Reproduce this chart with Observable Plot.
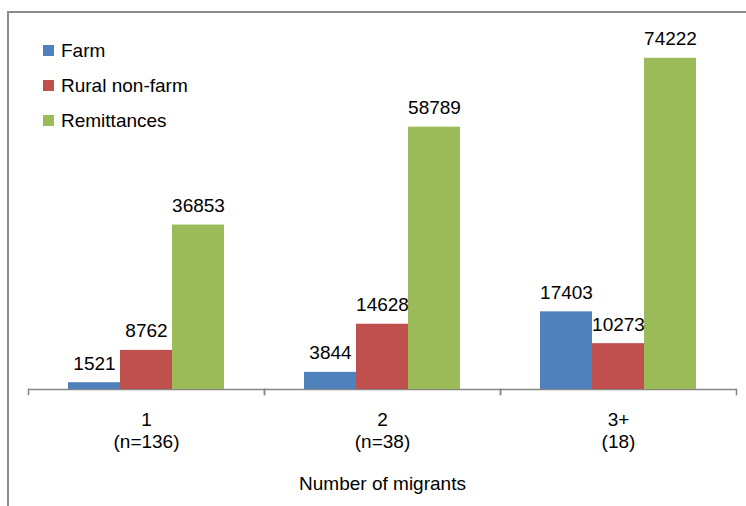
<!DOCTYPE html>
<html><head><meta charset="utf-8">
<script src="https://cdn.jsdelivr.net/npm/d3@7"></script>
<script src="https://cdn.jsdelivr.net/npm/@observablehq/plot@0.6"></script>
<style>
body{margin:0;background:#fff;}
#wrap{position:relative;width:746px;height:506px;overflow:hidden;font-family:"Liberation Sans",Arial,sans-serif;background:#fff;}
#border{position:absolute;left:7px;top:11px;width:800px;height:600px;border-left:2px solid #8c8c8c;border-top:2px solid #8c8c8c;z-index:5;}
#legend{position:absolute;left:43px;top:33px;z-index:6;}
.item{display:flex;align-items:center;height:35px;font-size:19px;color:#000;}
.sw{width:11px;height:11px;margin-right:7px;}
#chart{position:absolute;left:0;top:0;}
</style></head>
<body>
<div id="wrap"><div id="chart"></div><div id="border"></div><div id="legend"></div></div>
<script>
const groups = ["1", "2", "3+"];
const groupLabels = ["1\n(n=136)", "2\n(n=38)", "3+\n(18)"];
const series = ["Farm", "Rural non-farm", "Remittances"];
const farm = [1521, 3844, 17403];
const ruralNonFarm = [8762, 14628, 10273];
const remittances = [36853, 58789, 74222];
const colors = ["#4F81BD", "#C0504D", "#9BBB59"];
const axisTitle = "Number of migrants";

const valuesBySeries = [farm, ruralNonFarm, remittances];
const rows = [];
groups.forEach((g, gi) => series.forEach((s, si) => rows.push({group: g, series: s, value: valuesBySeries[si][gi]})));

const font = '"Liberation Sans", Arial, sans-serif';
const chart = Plot.plot({
  width: 746, height: 506,
  marginLeft: 27, marginRight: 10, marginTop: 32, marginBottom: 117,
  style: {fontFamily: font, fontSize: "19px", background: "transparent", color: "#000"},
  fx: {domain: groups, padding: 0},
  x: {domain: series, paddingInner: 0, paddingOuter: 0.75, axis: null},
  y: {domain: [0, 80000], axis: null},
  color: {domain: series, range: colors},
  marks: [
    Plot.ruleY([0], {stroke: "#868686", strokeWidth: 1.5}),
    Plot.frame({anchor: "left", stroke: "#868686", strokeWidth: 1.5, insetTop: 357, insetBottom: -5}),
    Plot.frame({anchor: "right", stroke: "#868686", strokeWidth: 1.5, insetTop: 357, insetBottom: -5}),
    Plot.barY(rows, {fx: "group", x: "series", y: "value", fill: "series"}),
    Plot.text(rows, {fx: "group", x: "series", y: "value", text: d => String(d.value), dy: -19, fontSize: 19, fill: "#000"}),
    Plot.axisFx({
      anchor: "bottom",
      tickFormat: d => groupLabels[groups.indexOf(d)],
      tickSize: 0, tickPadding: 20, lineHeight: 1.2, fontSize: 19, fill: "#000",
      label: axisTitle, labelAnchor: "center", labelOffset: 100
    })
  ]
});
document.getElementById("chart").appendChild(chart);

const legend = document.getElementById("legend");
series.forEach((s, i) => {
  const item = document.createElement("div");
  item.className = "item";
  const sw = document.createElement("div");
  sw.className = "sw";
  sw.style.background = colors[i];
  const t = document.createElement("span");
  t.textContent = s;
  item.appendChild(sw); item.appendChild(t);
  legend.appendChild(item);
});
</script>
</body></html>
